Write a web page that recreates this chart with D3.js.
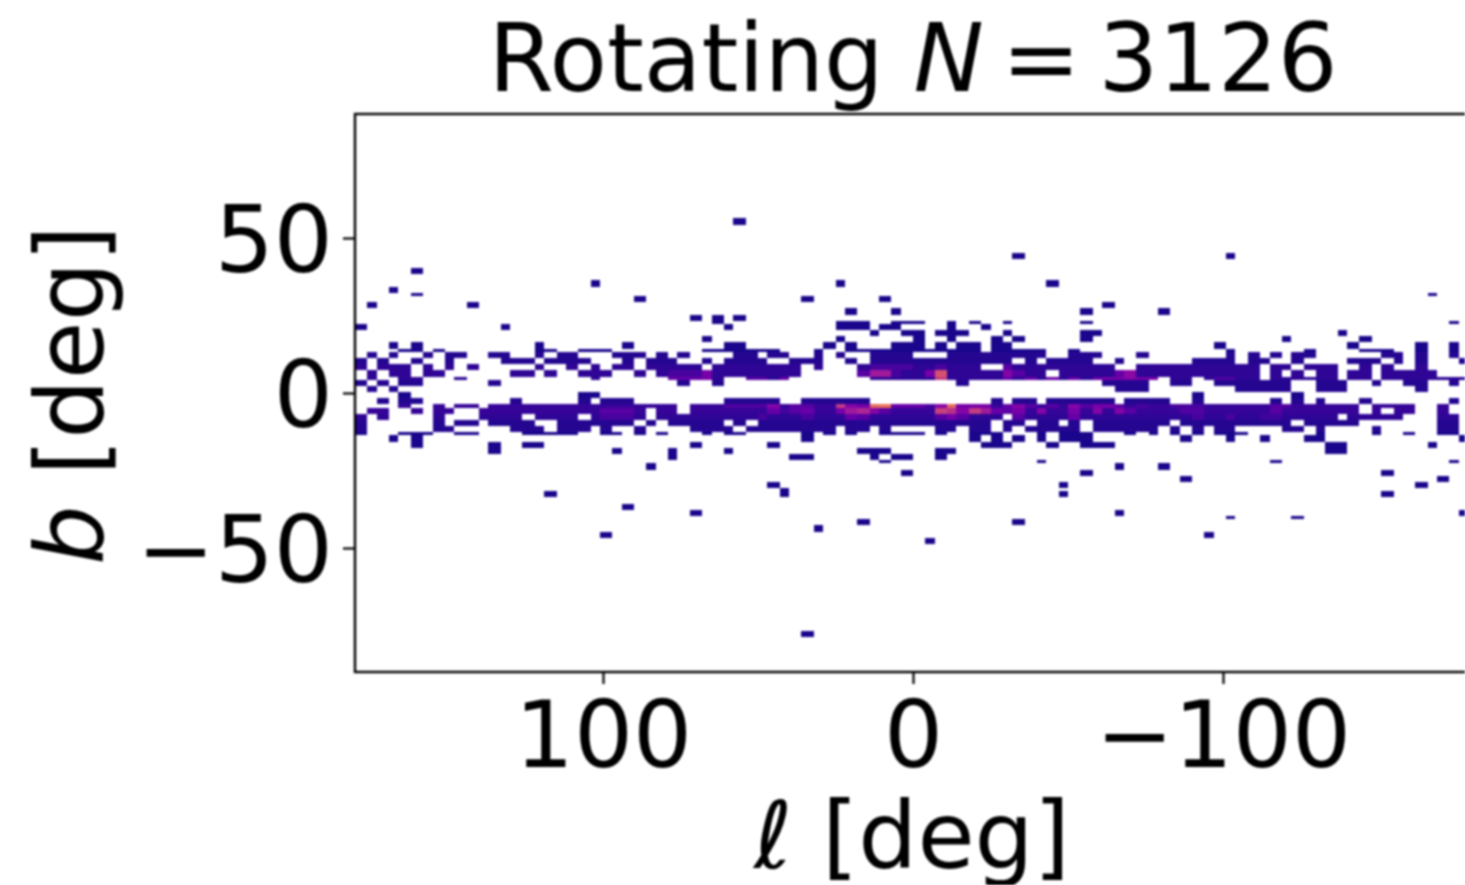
<!DOCTYPE html>
<html><head><meta charset="utf-8">
<script src="https://cdn.jsdelivr.net/npm/d3@7"></script>
<style>
html,body{margin:0;padding:0;background:#fff;overflow:hidden}
svg{display:block;filter:blur(1px)}
text{font-family:"DejaVu Sans";fill:#000}
</style></head><body>
<svg id="c" width="1465" height="885"></svg>
<script>
const titleText = "Rotating";
const titleVar = "N";
const titleCount = "3126";
const xTicks = [100, 0, -100];
const yTicks = [50, 0, -50];
const nBins = 100;
const colorMax = 52;

// [row from top, occupied columns, usual count in those cells]
const occupied = [
[19,"34",1],[25,"59 78",1],[28,"5",1],[30,"21 43 62",1],[31,"3",1],[32,"5 96",1],
[33,"25 40 47",1],[34,"1 10 67",1],[35,"44 48 65 72",1],[36,"30 32 34",1],
[37,"32 43-45 48-50 53 55 58 65 98",1],
[38,"0 13 33 43-45 47 48 53 56",1],
[39,"46 49 50 52-54 58 65 66 88",1],
[40,"31 43 50 53 57 59 65 83 90",1],
[41,"3 5 16 24 33 34 42 44 48-50 52 54 55 57 58 77 89 95 98",1],
[42,"4 5 7 16 17 20-22 31-37 41 44-55 57-61 64 78 85 90-92 95 98",1],
[43,"1 3 6 8 9 12 13 16 18 19 23-25 27 29 34 35 37 38 41 43 46-49 53-61 64-66 70 78 80 82 84 85 92 93 95 98",2],
[44,"0 2 5 8 13-15 17-20 24 26-28 31 33-36 39-41 44 46-58 60 62-65 68 75-78 80 81 84 89-91 93 95 99",2],
[45,"0 2-4 6 8 10 16 19 21 23 24 26-30 32-39 41 45-55 58-67 70-80 82 83 85-87 90 92 95",3],
[46,"1 3 4 6 7 14 15 17 20-22 25 27-39 45-61 63-80 82 84 86 87 89 90 92-96",3],
[47,"1 4 5 9 21 28-32 35-38 46-71 73 74 76-80 82-87 89 90 92-99",3],
[48,"0 2 4 5 12 29 32 54 67-70 73 74 77-83 86-88 91 94 95 98",2],
[49,"1 3 68-70 79-83 86-88 95",2],
[50,"4 20 21 75 84",1],
[51,"2 4 5 14 20 22-24 33-37 40-45 57 59 60 62-67 69-72 75 82 84 86 90 98",2],
[52,"4 7 9 10 12-28 30-89 91-94 97",4],
[53,"1 2 5 7 8 11-25 27 28 30-89 91 93 94 97",4],
[54,"0 2 7 11-14 16-19 21-25 27-57 59-87 89-93 97 98",3],
[55,"0 7 9 10 12-15 18-24 26 28-32 34 36-56 58 59 61 62 64 66-72 74-83 85-89 97 98",2],
[56,"0 7 8 14-16 18-20 22 25 30-33 35-42 44 45 47 52 53 55 56 58 60-64 66-71 73 75 77 78 83 84 86 91 97 98",2],
[57,"0 4-6 9 10 15-19 22 23 25 27 31 33 34 40 42 44 47-50 52 55-57 61 63-65 69 71 73 75 77-79 86 91 94 97 98",1],
[58,"3 5 40 55 57 59 61 63-65 74 78 81 85 86 99",1],
[59,"5 12 15 16 30 37 56-58 62 65-67 87 88 96",1],
[60,"12 23 28 33 45-47 52 53 87 88",1],
[61,"28 39 40 46 48 49 52",1],
[62,"47 61 82 98",1],[63,"26 68 72",1],[64,"49 65 92",1],[65,"74 97",1],
[66,"37 63 95",1],[67,"38",1],[68,"17 38 63 92",1],[70,"24",1],[71,"30 68 99",1],
[72,"78 84",1],[73,"45 59",1],[74,"41",1],[75,"22 76",1],[76,"51",1],[93,"40",1]
];

// [row, column, count] for the warmer cells
const warmCells = [
[45,46,6],[45,47,6],[45,48,6],[45,49,6],[45,52,6],[45,58,8],
[46,28,6],[46,29,6],[46,30,6],[46,31,12],[46,45,8],[46,46,18],[46,47,18],[46,48,6],[46,51,12],[46,52,28],[46,58,14],[46,59,8],[46,68,10],[46,69,15],
[47,28,10],[47,29,10],[47,30,10],[47,31,12],[47,35,8],[47,36,8],[47,38,10],[47,52,24],[47,58,10],[47,60,10],[47,62,10],[47,64,10],[47,66,10],[47,67,12],[47,68,12],[47,69,14],[47,70,12],[47,71,12],[47,77,7],[47,78,7],
[52,33,7],[52,34,7],[52,35,7],[52,36,7],[52,37,14],[52,39,8],[52,40,8],[52,43,24],[52,44,14],[52,45,12],[52,46,32],[52,47,34],[52,48,10],[52,49,10],[52,50,10],[52,51,6],[52,52,14],[52,53,32],[52,54,12],[52,55,12],[52,56,12],[52,58,10],[52,59,14],[52,60,8],[52,62,8],[52,64,14],[52,65,8],[52,66,12],[52,67,12],[52,68,8],[52,70,6],[52,73,6],[52,74,6],[52,75,6],[52,82,8],[52,83,7],
[53,22,8],[53,23,8],[53,24,8],[53,37,10],[53,38,5],[53,39,8],[53,40,10],[53,43,12],[53,44,18],[53,45,20],[53,46,14],[53,47,8],[53,52,25],[53,53,22],[53,54,14],[53,55,24],[53,56,18],[53,57,10],[53,58,8],[53,59,12],[53,61,14],[53,64,12],[53,66,14],[53,68,14],[53,69,8],[53,74,7],[53,75,7],[53,82,8],
[54,22,6],[54,23,6],[54,24,6],[54,36,6],[54,40,6],[54,44,10],[54,45,8],[54,52,8],[54,53,12],[54,54,8],[54,59,8],[54,64,10],[54,75,6],[54,78,6],[54,81,5],[54,82,5]
];

const svg = d3.select("#c");
const x = d3.scaleLinear().domain([180,-180]).range([355,1471]);
const y = d3.scaleLinear().domain([90,-90]).range([114,672]);
const color = d3.scaleSequential(d3.interpolatePlasma).domain([0,colorMax]);

// The raster holds one pixel per degree, so bin edges land on whole degrees.
const lEdge = i => 180 - Math.max(0, Math.ceil(i*360/nBins - 0.5));
const bEdge = j => 90 - Math.max(0, Math.ceil(j*180/nBins - 0.5) - 0.3);

const warm = new Map(warmCells.map(d => [d[0]+"_"+d[1], d[2]]));
const cells = [];
occupied.forEach(([row, spec, count]) => {
  spec.split(" ").forEach(part => {
    const [a,b] = part.split("-").map(Number);
    for (let col=a; col<=(b===undefined?a:b); col++) {
      cells.push({row, col, count: warm.get(row+"_"+col) ?? count});
    }
  });
});

svg.append("g").attr("shape-rendering","crispEdges").selectAll("rect").data(cells).join("rect")
  .attr("x", d => x(lEdge(d.col)))
  .attr("y", d => y(bEdge(d.row)))
  .attr("width", d => x(lEdge(d.col+1)) - x(lEdge(d.col)))
  .attr("height", d => y(bEdge(d.row+1)) - y(bEdge(d.row)))
  .attr("fill", d => color(d.count));

const fmt = d => String(d).replace("-", "\u2212");
const xAxis = svg.append("g").attr("transform","translate(0,672)")
  .call(d3.axisBottom(x).tickValues(xTicks).tickFormat(fmt).tickSize(12).tickPadding(17));
const yAxis = svg.append("g").attr("transform","translate(355,0)")
  .call(d3.axisLeft(y).tickValues(yTicks).tickFormat(fmt).tickSize(12).tickPadding(10));
[xAxis,yAxis].forEach(g => {
  g.selectAll("text").style("font-family","DejaVu Sans").style("font-size","93px").attr("fill","#000");
  g.selectAll("line").attr("stroke","#000").attr("stroke-width",2.2);
  g.select(".domain").remove();
});
yAxis.selectAll("text").attr("dy","0.355em");
svg.append("rect").attr("x",x(180)).attr("y",y(90)).attr("width",x(-180)-x(180)).attr("height",y(-90)-y(90))
  .attr("fill","none").attr("stroke","#000").attr("stroke-width",2.4);

const t = svg.append("text").attr("x",913).attr("y",91).attr("text-anchor","middle").style("font-size","94px");
t.append("tspan").text(titleText+" ");
t.append("tspan").style("font-style","italic").text(titleVar);
t.append("tspan").attr("dx","0.19em").text("=");
t.append("tspan").attr("dx","0.19em").text(titleCount);

const xl = svg.append("text").attr("x",912).attr("y",868).attr("text-anchor","middle").style("font-size","93px");
xl.append("tspan").style("font-style","italic").text("\u2113");
xl.append("tspan").text(" [deg]");

const yl = svg.append("text").attr("transform","translate(103,395) rotate(-90)").attr("text-anchor","middle").style("font-size","94px");
yl.append("tspan").style("font-style","italic").text("b");
yl.append("tspan").text(" [deg]");
</script>
</body></html>
